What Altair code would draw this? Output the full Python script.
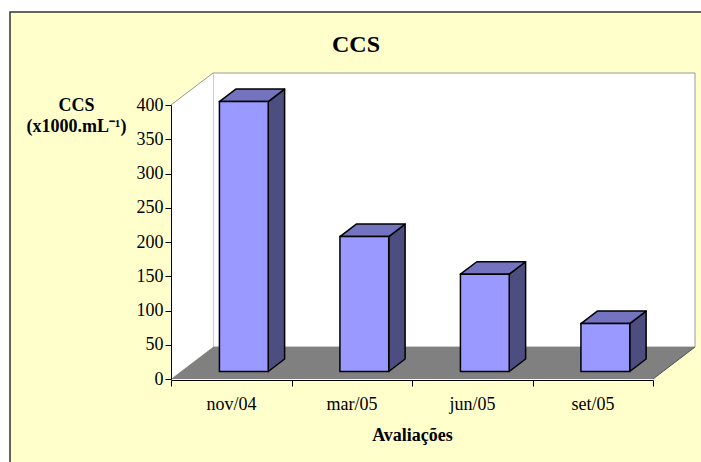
import altair as alt
import pandas as pd

# ---- data -------------------------------------------------------------
categories = ["nov/04", "mar/05", "jun/05", "set/05"]
ccs = [394, 197, 142, 70]
y_ticks = [0, 50, 100, 150, 200, 250, 300, 350, 400]
x_title = "Avaliações"
y_title = ["CCS", "(x1000.mL⁻¹)"]
chart_title = "CCS"

# ---- 3D geometry (in data units) ---------------------------------------
N = len(categories)
YMAX = 400
PX_X = 120.5            # px per category
PX_Y = 274 / 400        # px per value unit
WALL_DX = 42 / PX_X     # depth offset of back wall (category units)
WALL_DY = 32 / PX_Y     # depth offset of back wall (value units)
F_FRONT, F_BACK = 0.235, 0.625
BAR_L, BAR_R = 0.32, 0.725

fdx, fdy = F_FRONT * WALL_DX, F_FRONT * WALL_DY
ddx, ddy = (F_BACK - F_FRONT) * WALL_DX, (F_BACK - F_FRONT) * WALL_DY

front, top, side = [], [], []
for i, (c, v) in enumerate(zip(categories, ccs)):
    xl, xr = i + BAR_L + fdx, i + BAR_R + fdx
    yb, yt = fdy, fdy + v
    front.append(dict(bar=c, x=xl, x2=xr, y=yb, y2=yt))
    top.append(dict(bar=c, y=yt, x=xl, x2=xr))
    top.append(dict(bar=c, y=yt + ddy, x=xl + ddx, x2=xr + ddx))
    side.append(dict(bar=c, x=xr, y=yb, y2=yt))
    side.append(dict(bar=c, x=xr + ddx, y=yb + ddy, y2=yt + ddy))

back_wall = pd.DataFrame([dict(x=WALL_DX, x2=N + WALL_DX, y=WALL_DY, y2=YMAX + WALL_DY)])
left_wall = pd.DataFrame([dict(x=0, y=0, y2=YMAX), dict(x=WALL_DX, y=WALL_DY, y2=YMAX + WALL_DY)])
floor = pd.DataFrame([dict(y=0, x=0, x2=N), dict(y=WALL_DY, x=WALL_DX, x2=N + WALL_DX)])
left_edge = pd.DataFrame([dict(x=0, y=YMAX), dict(x=WALL_DX, y=YMAX + WALL_DY)])
floor_edge = pd.DataFrame([dict(x=N, y=0), dict(x=N + WALL_DX, y=WALL_DY)])

# ---- scales / axes ------------------------------------------------------
XS = alt.Scale(domain=[0, N], range=[161, 643], nice=False, zero=False)
YS = alt.Scale(domain=[0, YMAX], range=[367, 93], nice=False, zero=False)

label_list = "[" + ",".join(f"'{c}'" for c in categories) + ",'']"
XAX = alt.Axis(values=list(range(N + 1)), labelExpr=f"{label_list}[datum.value]",
               labelOffset=60, labelFlush=False, offset=-83, zindex=1, grid=False,
               domainColor="black", tickColor="black", tickSize=6, tickWidth=1,
               labelFont="Liberation Serif", labelFontSize=18, labelColor="black",
               labelPadding=9, labelAngle=0,
               title=x_title, titleFont="Liberation Serif", titleFontSize=18,
               titleFontWeight="bold", titleColor="black", titleX=402, titleY=60,
               titleAlign="center", titleBaseline="alphabetic")
YAX = alt.Axis(values=y_ticks, offset=-161, zindex=1, grid=False, labelFlush=False,
               domainColor="black", tickColor="black", tickSize=6, tickWidth=1,
               labelFont="Liberation Serif", labelFontSize=18, labelColor="black",
               labelPadding=2,
               title=y_title, titleFont="Liberation Serif", titleFontSize=18,
               titleFontWeight="bold", titleColor="black", titleAngle=0,
               titleX=-95, titleY=84, titleAlign="center", titleBaseline="top",
               titleLineHeight=21)

X = alt.X("x:Q", scale=XS, axis=XAX)
Y = alt.Y("y:Q", scale=YS, axis=YAX)

back = alt.Chart(back_wall).mark_rect(fill="white", stroke="#9a9a9a", strokeWidth=1).encode(
    x=X, x2="x2:Q", y=Y, y2="y2:Q")
lwall = alt.Chart(left_wall).mark_area(fill="white", orient="vertical").encode(
    x=X, y=Y, y2="y2:Q")
flr = alt.Chart(floor).mark_area(fill="#808080", orient="horizontal").encode(
    y=Y, x=X, x2="x2:Q")
ledge = alt.Chart(left_edge).mark_line(color="#9a9a9a", strokeWidth=1).encode(x=X, y=Y)
fedge = alt.Chart(floor_edge).mark_line(color="#505050", strokeWidth=1).encode(x=X, y=Y)

bar_front = alt.Chart(pd.DataFrame(front)).mark_rect(
    fill="#9999FF", stroke="black", strokeWidth=1.5).encode(
    x=X, x2="x2:Q", y=Y, y2="y2:Q", detail="bar:N")
bar_top = alt.Chart(pd.DataFrame(top)).mark_area(
    fill="#7373BF", stroke="black", strokeWidth=1.5, orient="horizontal",
    strokeJoin="round").encode(y=Y, x=X, x2="x2:Q", detail="bar:N")
bar_side = alt.Chart(pd.DataFrame(side)).mark_area(
    fill="#4D4D80", stroke="black", strokeWidth=1.5, orient="vertical",
    strokeJoin="round").encode(x=X, y=Y, y2="y2:Q", detail="bar:N")

chart = alt.layer(back, lwall, flr, ledge, fedge, bar_side, bar_top, bar_front).properties(
    width=692, height=451,
    padding={"left": 10, "top": 12, "right": -1, "bottom": -1},
    autosize=alt.AutoSizeParams(type="none"),
    background="white",
    title=alt.TitleParams(text=chart_title, anchor="middle", font="Liberation Serif",
                          fontSize=24, fontWeight="bold", color="black",
                          frame="group", baseline="top", offset=-45, dy=0),
).configure_view(fill="#FFFFCC", stroke="#333333", strokeWidth=1.5)

chart.save("out.html", embed_options={"renderer": "svg", "actions": False})
